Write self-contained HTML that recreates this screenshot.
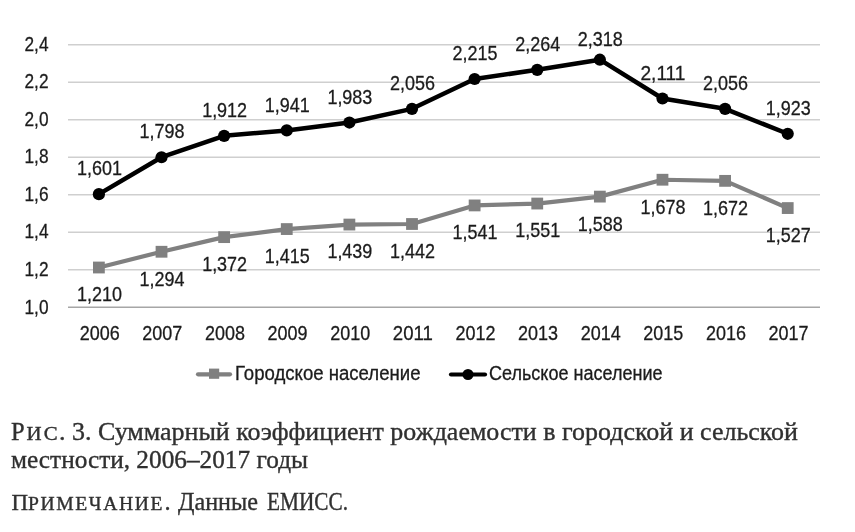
<!DOCTYPE html>
<html><head><meta charset="utf-8"><style>
html,body{margin:0;padding:0;background:#fff;width:855px;height:532px;overflow:hidden}
svg{display:block;will-change:transform}
svg text{font-family:"Liberation Sans",sans-serif;fill:#1b1b1b;stroke:#1b1b1b;stroke-width:0.3px}
svg text.cap{font-family:"Liberation Serif",serif;fill:#303030;stroke:#303030;stroke-width:0.35px}
</style></head><body>
<svg width="855" height="532" viewBox="0 0 855 532">
<rect x="0" y="0" width="855" height="532" fill="#ffffff"/>
<line x1="68" y1="269.79" x2="820" y2="269.79" stroke="#cfcfcf" stroke-width="1.6"/>
<line x1="68" y1="232.28" x2="820" y2="232.28" stroke="#cfcfcf" stroke-width="1.6"/>
<line x1="68" y1="194.76" x2="820" y2="194.76" stroke="#cfcfcf" stroke-width="1.6"/>
<line x1="68" y1="157.25" x2="820" y2="157.25" stroke="#cfcfcf" stroke-width="1.6"/>
<line x1="68" y1="119.74" x2="820" y2="119.74" stroke="#cfcfcf" stroke-width="1.6"/>
<line x1="68" y1="82.23" x2="820" y2="82.23" stroke="#cfcfcf" stroke-width="1.6"/>
<line x1="68" y1="44.72" x2="820" y2="44.72" stroke="#cfcfcf" stroke-width="1.6"/>
<line x1="68" y1="307.30" x2="820" y2="307.30" stroke="#a6a6a6" stroke-width="1.6"/>
<text x="48.5" y="313.50" text-anchor="end" font-size="20.8" textLength="24" lengthAdjust="spacingAndGlyphs">1,0</text>
<text x="48.5" y="275.99" text-anchor="end" font-size="20.8" textLength="24" lengthAdjust="spacingAndGlyphs">1,2</text>
<text x="48.5" y="238.48" text-anchor="end" font-size="20.8" textLength="24" lengthAdjust="spacingAndGlyphs">1,4</text>
<text x="48.5" y="200.96" text-anchor="end" font-size="20.8" textLength="24" lengthAdjust="spacingAndGlyphs">1,6</text>
<text x="48.5" y="163.45" text-anchor="end" font-size="20.8" textLength="24" lengthAdjust="spacingAndGlyphs">1,8</text>
<text x="48.5" y="125.94" text-anchor="end" font-size="20.8" textLength="24" lengthAdjust="spacingAndGlyphs">2,0</text>
<text x="48.5" y="88.43" text-anchor="end" font-size="20.8" textLength="24" lengthAdjust="spacingAndGlyphs">2,2</text>
<text x="48.5" y="50.92" text-anchor="end" font-size="20.8" textLength="24" lengthAdjust="spacingAndGlyphs">2,4</text>
<text x="99.70" y="339.5" text-anchor="middle" font-size="20.8" textLength="40" lengthAdjust="spacingAndGlyphs">2006</text>
<text x="162.32" y="339.5" text-anchor="middle" font-size="20.8" textLength="40" lengthAdjust="spacingAndGlyphs">2007</text>
<text x="224.94" y="339.5" text-anchor="middle" font-size="20.8" textLength="40" lengthAdjust="spacingAndGlyphs">2008</text>
<text x="287.56" y="339.5" text-anchor="middle" font-size="20.8" textLength="40" lengthAdjust="spacingAndGlyphs">2009</text>
<text x="350.18" y="339.5" text-anchor="middle" font-size="20.8" textLength="40" lengthAdjust="spacingAndGlyphs">2010</text>
<text x="412.80" y="339.5" text-anchor="middle" font-size="20.8" textLength="40" lengthAdjust="spacingAndGlyphs">2011</text>
<text x="475.42" y="339.5" text-anchor="middle" font-size="20.8" textLength="40" lengthAdjust="spacingAndGlyphs">2012</text>
<text x="538.04" y="339.5" text-anchor="middle" font-size="20.8" textLength="40" lengthAdjust="spacingAndGlyphs">2013</text>
<text x="600.66" y="339.5" text-anchor="middle" font-size="20.8" textLength="40" lengthAdjust="spacingAndGlyphs">2014</text>
<text x="663.28" y="339.5" text-anchor="middle" font-size="20.8" textLength="40" lengthAdjust="spacingAndGlyphs">2015</text>
<text x="725.90" y="339.5" text-anchor="middle" font-size="20.8" textLength="40" lengthAdjust="spacingAndGlyphs">2016</text>
<text x="788.52" y="339.5" text-anchor="middle" font-size="20.8" textLength="40" lengthAdjust="spacingAndGlyphs">2017</text>
<polyline points="98.90,267.51 161.52,251.76 224.14,237.13 286.76,229.06 349.38,224.56 412.00,224.00 474.62,205.43 537.24,203.55 599.86,196.61 662.48,179.73 725.10,180.86 787.72,208.06" fill="none" stroke="#808080" stroke-width="4.2" stroke-linejoin="round"/>
<rect x="93.00" y="261.61" width="11.8" height="11.8" fill="#808080"/>
<rect x="155.62" y="245.86" width="11.8" height="11.8" fill="#808080"/>
<rect x="218.24" y="231.23" width="11.8" height="11.8" fill="#808080"/>
<rect x="280.86" y="223.16" width="11.8" height="11.8" fill="#808080"/>
<rect x="343.48" y="218.66" width="11.8" height="11.8" fill="#808080"/>
<rect x="406.10" y="218.10" width="11.8" height="11.8" fill="#808080"/>
<rect x="468.72" y="199.53" width="11.8" height="11.8" fill="#808080"/>
<rect x="531.34" y="197.65" width="11.8" height="11.8" fill="#808080"/>
<rect x="593.96" y="190.71" width="11.8" height="11.8" fill="#808080"/>
<rect x="656.58" y="173.83" width="11.8" height="11.8" fill="#808080"/>
<rect x="719.20" y="174.96" width="11.8" height="11.8" fill="#808080"/>
<rect x="781.82" y="202.16" width="11.8" height="11.8" fill="#808080"/>
<polyline points="98.90,194.18 161.52,157.23 224.14,135.85 286.76,130.41 349.38,122.53 412.00,108.84 474.62,79.01 537.24,69.82 599.86,59.70 662.48,98.52 725.10,108.84 787.72,133.78" fill="none" stroke="#000000" stroke-width="4.5" stroke-linejoin="round"/>
<circle cx="98.90" cy="194.18" r="6.1" fill="#000000"/>
<circle cx="161.52" cy="157.23" r="6.1" fill="#000000"/>
<circle cx="224.14" cy="135.85" r="6.1" fill="#000000"/>
<circle cx="286.76" cy="130.41" r="6.1" fill="#000000"/>
<circle cx="349.38" cy="122.53" r="6.1" fill="#000000"/>
<circle cx="412.00" cy="108.84" r="6.1" fill="#000000"/>
<circle cx="474.62" cy="79.01" r="6.1" fill="#000000"/>
<circle cx="537.24" cy="69.82" r="6.1" fill="#000000"/>
<circle cx="599.86" cy="59.70" r="6.1" fill="#000000"/>
<circle cx="662.48" cy="98.52" r="6.1" fill="#000000"/>
<circle cx="725.10" cy="108.84" r="6.1" fill="#000000"/>
<circle cx="787.72" cy="133.78" r="6.1" fill="#000000"/>
<text x="99.40" y="175.28" text-anchor="middle" font-size="20.8" textLength="45" lengthAdjust="spacingAndGlyphs">1,601</text>
<text x="162.02" y="138.33" text-anchor="middle" font-size="20.8" textLength="45" lengthAdjust="spacingAndGlyphs">1,798</text>
<text x="224.64" y="116.95" text-anchor="middle" font-size="20.8" textLength="45" lengthAdjust="spacingAndGlyphs">1,912</text>
<text x="287.26" y="111.51" text-anchor="middle" font-size="20.8" textLength="45" lengthAdjust="spacingAndGlyphs">1,941</text>
<text x="349.88" y="103.63" text-anchor="middle" font-size="20.8" textLength="45" lengthAdjust="spacingAndGlyphs">1,983</text>
<text x="412.50" y="89.94" text-anchor="middle" font-size="20.8" textLength="45" lengthAdjust="spacingAndGlyphs">2,056</text>
<text x="475.12" y="60.11" text-anchor="middle" font-size="20.8" textLength="45" lengthAdjust="spacingAndGlyphs">2,215</text>
<text x="537.74" y="50.92" text-anchor="middle" font-size="20.8" textLength="45" lengthAdjust="spacingAndGlyphs">2,264</text>
<text x="600.36" y="46.00" text-anchor="middle" font-size="20.8" textLength="45" lengthAdjust="spacingAndGlyphs">2,318</text>
<text x="662.98" y="79.62" text-anchor="middle" font-size="20.8" textLength="45" lengthAdjust="spacingAndGlyphs">2,111</text>
<text x="725.60" y="89.94" text-anchor="middle" font-size="20.8" textLength="45" lengthAdjust="spacingAndGlyphs">2,056</text>
<text x="788.22" y="114.88" text-anchor="middle" font-size="20.8" textLength="45" lengthAdjust="spacingAndGlyphs">1,923</text>
<text x="99.40" y="301.41" text-anchor="middle" font-size="20.8" textLength="45" lengthAdjust="spacingAndGlyphs">1,210</text>
<text x="162.02" y="285.66" text-anchor="middle" font-size="20.8" textLength="45" lengthAdjust="spacingAndGlyphs">1,294</text>
<text x="224.64" y="271.03" text-anchor="middle" font-size="20.8" textLength="45" lengthAdjust="spacingAndGlyphs">1,372</text>
<text x="287.26" y="262.96" text-anchor="middle" font-size="20.8" textLength="45" lengthAdjust="spacingAndGlyphs">1,415</text>
<text x="349.88" y="258.46" text-anchor="middle" font-size="20.8" textLength="45" lengthAdjust="spacingAndGlyphs">1,439</text>
<text x="412.50" y="257.90" text-anchor="middle" font-size="20.8" textLength="45" lengthAdjust="spacingAndGlyphs">1,442</text>
<text x="475.12" y="239.33" text-anchor="middle" font-size="20.8" textLength="45" lengthAdjust="spacingAndGlyphs">1,541</text>
<text x="537.74" y="237.45" text-anchor="middle" font-size="20.8" textLength="45" lengthAdjust="spacingAndGlyphs">1,551</text>
<text x="600.36" y="230.51" text-anchor="middle" font-size="20.8" textLength="45" lengthAdjust="spacingAndGlyphs">1,588</text>
<text x="662.98" y="213.63" text-anchor="middle" font-size="20.8" textLength="45" lengthAdjust="spacingAndGlyphs">1,678</text>
<text x="725.60" y="214.76" text-anchor="middle" font-size="20.8" textLength="45" lengthAdjust="spacingAndGlyphs">1,672</text>
<text x="788.22" y="241.96" text-anchor="middle" font-size="20.8" textLength="45" lengthAdjust="spacingAndGlyphs">1,527</text>
<line x1="198" y1="374.3" x2="230" y2="374.3" stroke="#808080" stroke-width="4.2" stroke-linecap="round"/>
<rect x="209" y="368.6" width="10.2" height="10.2" fill="#808080"/>
<text x="235" y="380.1" font-size="19.5" textLength="185.5" lengthAdjust="spacingAndGlyphs">Городское население</text>
<line x1="451" y1="374.5" x2="485" y2="374.5" stroke="#000" stroke-width="4.2" stroke-linecap="round"/>
<circle cx="468" cy="374.5" r="5.5" fill="#000"/>
<text x="489" y="380.1" font-size="19.5" textLength="173.5" lengthAdjust="spacingAndGlyphs">Сельское население</text>
<text class="cap" x="11" y="440" font-size="24.5">Р</text>
<text class="cap" x="26.5" y="440" font-size="18.3" letter-spacing="2" textLength="33.5" lengthAdjust="spacingAndGlyphs">ИС</text>
<text class="cap" x="59" y="440" font-size="24.5" textLength="739" lengthAdjust="spacingAndGlyphs">. 3. Суммарный коэффициент рождаемости в городской и сельской</text>
<text class="cap" x="11" y="468" font-size="24.5" textLength="297" lengthAdjust="spacingAndGlyphs">местности, 2006–2017 годы</text>
<text class="cap" x="11.5" y="510.3" font-size="23">П</text>
<text class="cap" x="28" y="510.3" font-size="18.3" letter-spacing="1.5" textLength="136" lengthAdjust="spacingAndGlyphs">РИМЕЧАНИЕ</text>
<text class="cap" x="164.5" y="510.3" font-size="24.5">.</text>
<text class="cap" x="178" y="510.3" font-size="24.5" textLength="80" lengthAdjust="spacingAndGlyphs">Данные</text>
<text class="cap" x="267" y="510.3" font-size="24.5" textLength="81" lengthAdjust="spacingAndGlyphs">ЕМИСС.</text>
</svg>
</body></html>
